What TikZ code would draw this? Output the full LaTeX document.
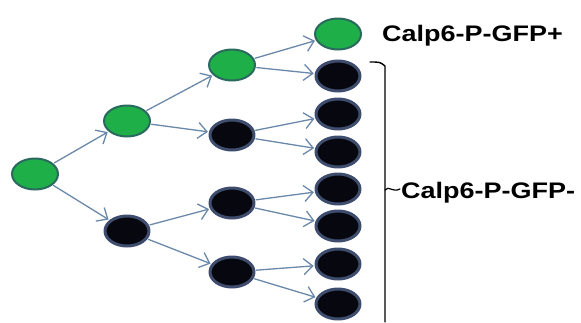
\documentclass[tikz,border=0pt]{standalone}
\usepackage{fontspec}
\setmainfont{Liberation Sans}
\usetikzlibrary{arrows.meta,shapes.geometric}

\definecolor{cellgreen}{HTML}{1FAF48}
\definecolor{greenrim}{HTML}{2A6A5E}
\definecolor{cellblack}{HTML}{07080F}
\definecolor{blackrim}{HTML}{3E4D6E}
\definecolor{splitblue}{HTML}{6A88AA}

\begin{document}
\begin{tikzpicture}[x=1pt,y=-1pt,>={Straight Barb[length=9pt,width=16pt]},line cap=round,line join=round,
  greencell/.style={ellipse,draw=greenrim,fill=cellgreen,line width=2pt,minimum width=46pt,minimum height=31pt,inner sep=0pt},
  darkcell/.style={ellipse,draw=blackrim,fill=cellblack,line width=3pt,minimum width=44pt,minimum height=30pt,inner sep=0pt},
  split/.style={->,draw=splitblue,line width=1.3pt,shorten >=1pt,shorten <=1pt},
  tag/.style={anchor=base west,inner sep=0pt,font=\bfseries\fontsize{22.5}{24}\selectfont}]
\useasboundingbox (0,0) rectangle (581,322);
% cells, one column per division
\node[greencell] (r) at (35,174) {};
\node[greencell] (a1) at (127,121) {};
\node[darkcell] (a2) at (127,231) {};
\node[greencell] (b1) at (232,65) {};
\node[darkcell] (b2) at (232,135) {};
\node[darkcell] (b3) at (232,203) {};
\node[darkcell] (b4) at (232,272) {};
\node[greencell] (c1) at (338,34) {};
\node[darkcell] (c2) at (338,76) {};
\node[darkcell] (c3) at (338,114) {};
\node[darkcell] (c4) at (338,152) {};
\node[darkcell] (c5) at (338,189) {};
\node[darkcell] (c6) at (338,226) {};
\node[darkcell] (c7) at (338,264) {};
\node[darkcell] (c8) at (338,304) {};
% divisions
\draw[split] (r) -- (a1);
\draw[split] (r) -- (a2);
\draw[split] (a1) -- (b1);
\draw[split] (a1) -- (b2);
\draw[split] (a2) -- (b3);
\draw[split] (a2) -- (b4);
\draw[split] (b1) -- (c1);
\draw[split] (b1) -- (c2);
\draw[split] (b2) -- (c3);
\draw[split] (b2) -- (c4);
\draw[split] (b3) -- (c5);
\draw[split] (b3) -- (c6);
\draw[split] (b4) -- (c7);
\draw[split] (b4) -- (c8);
% bracket over the negative cells
\coordinate (top) at (370,62);
\coordinate (nub) at (385,190);
\draw[line width=1.4pt] (top) .. controls (380,62) .. (385,66) -- (385,322);
\draw[line width=1.2pt] (nub) .. controls (389,185) and (392,193) .. (400,189);
\node[tag] (plus) at (382,41) {\scalebox{1.2}[1]{Calp6-P-GFP+}};
\node[tag] (minus) at (401,198) {\scalebox{1.2}[1]{Calp6-P-GFP-}};
\end{tikzpicture}
\end{document}
